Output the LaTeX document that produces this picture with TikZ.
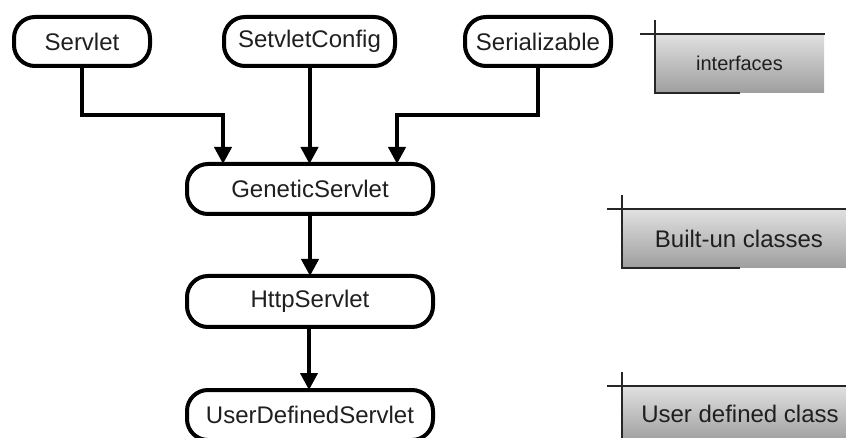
\documentclass[tikz,border=0pt]{standalone}
\usepackage{fontspec}
\setmainfont{Liberation Sans}
\usetikzlibrary{arrows.meta}
\begin{document}
\begin{tikzpicture}[x=1pt,y=-1pt,
  cls/.style={draw=black, line width=4pt, rounded corners=21pt, fill=white,
    inner sep=0pt, outer sep=0pt, text=black!88,
    font=\fontsize{24}{28}\selectfont},
  arr/.style={line width=4pt, -{Triangle[width=17pt,length=17pt]}},
  legbox/.style={draw=none, inner sep=0pt, outer sep=0pt,
    top color=black!12, bottom color=black!38, text=black!88},
  legline/.style={line width=1.4pt, draw=black!85}]
\useasboundingbox (0,0) rectangle (846,438);
% class nodes
\node[cls, minimum width=136pt, minimum height=49pt] (s1) at (82,41.5) {Servlet};
\node[cls, minimum width=171pt, minimum height=49pt] (s2) at (309.5,41.5) {SetvletConfig};
\node[cls, minimum width=146pt, minimum height=49pt] (s3) at (538,41.5) {Serializable};
\node[cls, minimum width=246pt, minimum height=50pt] (g) at (310,189) {GeneticServlet};
\node[cls, minimum width=246pt, minimum height=51pt] (h) at (310,301.5) {HttpServlet};
\node[cls, minimum width=246pt, minimum height=50pt] (u) at (310,415) {UserDefinedServlet};
% connectors
\coordinate (c1) at (223,115);
\coordinate (c3) at (397,115);
\draw[arr] (s1.south) |- (c1) -- (c1 |- g.north);
\draw[arr] (s2.south) -- (s2.south |- g.north);
\draw[arr] (s3.south) |- (c3) -- (c3 |- g.north);
\draw[arr] (g.south) -- (g.south |- h.north);
\draw[arr] ([xshift=-1pt]h.south) -- ([xshift=-1pt]h.south |- u.north);
% legend
\node[legbox, minimum width=169pt, minimum height=59pt, font=\fontsize{20}{24}\selectfont]
  (l1) at (739.5,63.5) {interfaces};
\draw[legline] (640,34) -- (825,34);
\draw[legline] (655,20) -- (655,93) -- (740,93);
\node[legbox, minimum width=224pt, minimum height=59pt, font=\fontsize{24}{28}\selectfont]
  (l2) at (734,238.5) {\hspace*{10pt}Built-un classes};
\draw[legline] (607,209) -- (846,209);
\draw[legline] (622,195) -- (622,268) -- (740,268);
\node[legbox, minimum width=224pt, minimum height=56pt, font=\fontsize{24}{28}\selectfont]
  (l3) at (734,414) {\hspace*{12pt}User defined class};
\draw[legline] (607,386) -- (846,386);
\draw[legline] (622,372) -- (622,442);
\end{tikzpicture}
\end{document}
